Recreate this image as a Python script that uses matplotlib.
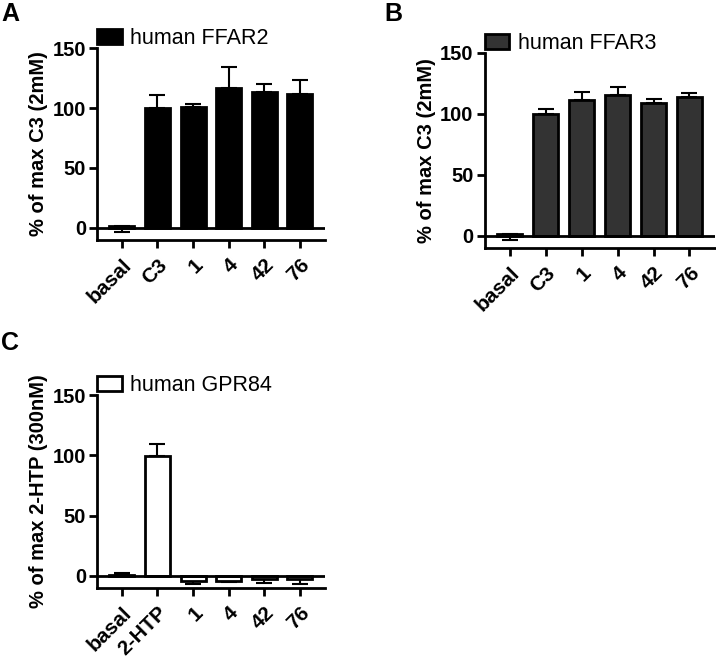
import matplotlib
matplotlib.use('Agg')
import matplotlib.pyplot as plt
import numpy as np

plt.rcParams['font.family'] = ['Liberation Sans', 'DejaVu Sans']

# panel A: human FFAR2
labels_a = ['basal', 'C3', '1', '4', '42', '76']
mean_a = [1.5, 100, 100.5, 117, 113, 112]
err_lo_a = [5, 0, 0, 0, 0, 0]
err_hi_a = [0, 10.5, 3, 17, 7, 11]

# panel B: human FFAR3
labels_b = ['basal', 'C3', '1', '4', '42', '76']
mean_b = [1.5, 100, 111, 115, 109, 114]
err_lo_b = [5, 0, 0, 0, 0, 0]
err_hi_b = [0, 3.5, 7, 6.5, 3, 3]

# panel C: human GPR84
labels_c = ['basal', '2-HTP', '1', '4', '42', '76']
mean_c = [0.5, 99.5, -4, -4, -3, -3]
err_lo_c = [0, 0, 3, 1.5, 3, 4]
err_hi_c = [2, 10, 0, 0, 0, 0]

fig = plt.figure(figsize=(7.16, 6.59), dpi=100)

LW = 2.0
FS = 14.5


def panel(rect, labels, mean, lo, hi, color, legend, ylabel, letter, letter_xy):
    ax = fig.add_axes(rect)
    x = np.arange(len(labels))
    ax.bar(x, mean, width=0.7, color=color, edgecolor='black', linewidth=LW,
           label=legend, zorder=2)
    ax.errorbar(x, mean, yerr=[lo, hi], fmt='none', ecolor='black',
                elinewidth=1.5, capsize=6, capthick=1.5, zorder=1)
    ax.axhline(0, color='black', lw=LW, zorder=3)
    ax.set_xlim(-0.7, 5.7)
    ax.set_ylim(-10, 150)
    ax.set_yticks([0, 50, 100, 150])
    ax.set_xticks(x)
    ax.set_xticklabels(labels, rotation=45, ha='right', rotation_mode='anchor',
                       fontsize=FS + 0.5, fontweight='bold')
    for t in ax.get_yticklabels():
        t.set_fontsize(FS)
        t.set_fontweight('bold')
    ax.spines['top'].set_visible(False)
    ax.spines['right'].set_visible(False)
    ax.spines['left'].set_linewidth(LW)
    ax.spines['bottom'].set_linewidth(LW)
    ax.tick_params(axis='both', width=LW, length=6, direction='out')
    ax.tick_params(axis='y', pad=2)
    ax.tick_params(axis='x', pad=5)
    ax.set_ylabel(ylabel, fontsize=FS, fontweight='bold', labelpad=3)
    ax.legend(loc='lower left', bbox_to_anchor=(0.0, 0.995), frameon=False,
              fontsize=15.5, handlelength=1.15, handleheight=0.7,
              handletextpad=0.4, borderaxespad=0, borderpad=0)
    fig.text(letter_xy[0], letter_xy[1], letter, fontsize=18, fontweight='bold',
             ha='left', va='top')
    return ax


panel([0.1355, 0.636, 0.318, 0.291], labels_a, mean_a, err_lo_a, err_hi_a,
      'black', 'human FFAR2', '% of max C3 (2mM)', 'A', (0.002, 0.997))
panel([0.677, 0.624, 0.321, 0.296], labels_b, mean_b, err_lo_b, err_hi_b,
      '#333333', 'human FFAR3', '% of max C3 (2mM)', 'B', (0.537, 0.997))
panel([0.1355, 0.108, 0.318, 0.2926], labels_c, mean_c, err_lo_c, err_hi_c,
      'white', 'human GPR84', '% of max 2-HTP (300nM)', 'C', (0.002, 0.497))

fig.savefig('out.png', dpi=100)
